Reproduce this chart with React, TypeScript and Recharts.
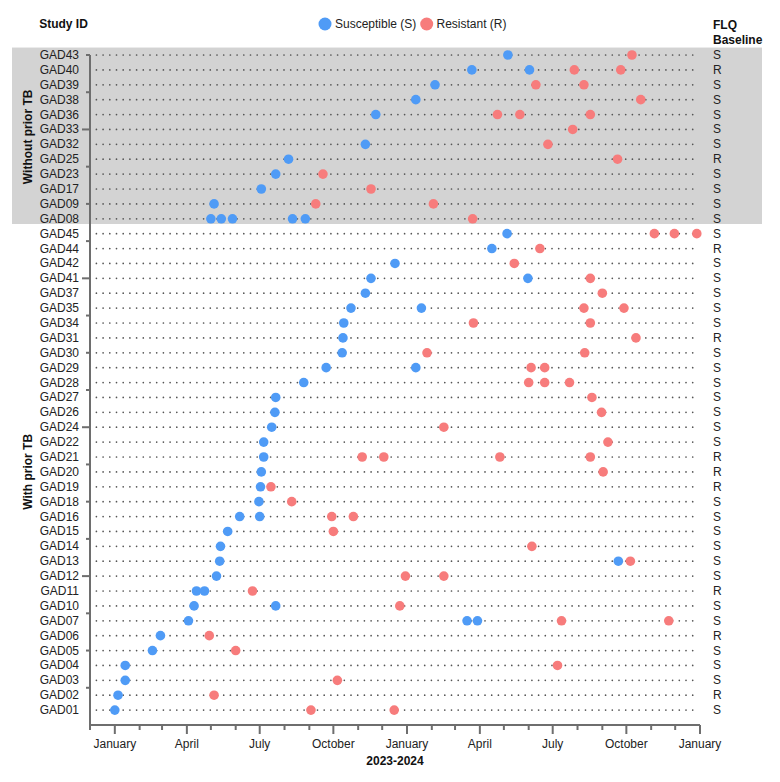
import React from "react";
import {
  ComposedChart,
  Scatter,
  XAxis,
  YAxis,
  ReferenceLine,
  ReferenceArea,
} from "recharts";

// Study IDs from top to bottom
const studyIds = [
  "GAD43", "GAD40", "GAD39", "GAD38", "GAD36", "GAD33", "GAD32", "GAD25", "GAD23", "GAD17", "GAD09", "GAD08",
  "GAD45", "GAD44", "GAD42", "GAD41", "GAD37", "GAD35", "GAD34", "GAD31", "GAD30", "GAD29", "GAD28", "GAD27",
  "GAD26", "GAD24", "GAD22", "GAD21", "GAD20", "GAD19", "GAD18", "GAD16", "GAD15", "GAD14", "GAD13", "GAD12",
  "GAD11", "GAD10", "GAD07", "GAD06", "GAD05", "GAD04", "GAD03", "GAD02", "GAD01",
];

const flqBaseline = [
  "S", "R", "S", "S", "S", "S", "S", "R", "S", "S", "S", "S",
  "S", "R", "S", "S", "S", "S", "S", "R", "S", "S", "S", "S",
  "S", "S", "S", "R", "R", "R", "S", "S", "S", "S", "S", "S",
  "R", "S", "S", "R", "S", "S", "S", "R", "S",
];

const groupLabels = ["Without prior TB", "With prior TB"];
const groupSizes = [12, 33];

const susceptibleObs: [string, string][] = [
  ["GAD43", "2024-05-06"],
  ["GAD40", "2024-03-22"], ["GAD40", "2024-06-02"],
  ["GAD39", "2024-02-05"],
  ["GAD38", "2024-01-12"],
  ["GAD36", "2023-11-23"],
  ["GAD32", "2023-11-10"],
  ["GAD25", "2023-08-06"],
  ["GAD23", "2023-07-21"],
  ["GAD17", "2023-07-03"],
  ["GAD09", "2023-05-05"],
  ["GAD08", "2023-05-01"], ["GAD08", "2023-05-14"], ["GAD08", "2023-05-28"], ["GAD08", "2023-08-11"], ["GAD08", "2023-08-27"],
  ["GAD45", "2024-05-05"],
  ["GAD44", "2024-04-16"],
  ["GAD42", "2023-12-17"],
  ["GAD41", "2023-11-17"], ["GAD41", "2024-05-31"],
  ["GAD37", "2023-11-10"],
  ["GAD35", "2023-10-23"], ["GAD35", "2024-01-19"],
  ["GAD34", "2023-10-14"],
  ["GAD31", "2023-10-13"],
  ["GAD30", "2023-10-12"],
  ["GAD29", "2023-09-22"], ["GAD29", "2024-01-12"],
  ["GAD28", "2023-08-25"],
  ["GAD27", "2023-07-21"],
  ["GAD26", "2023-07-20"],
  ["GAD24", "2023-07-16"],
  ["GAD22", "2023-07-06"],
  ["GAD21", "2023-07-06"],
  ["GAD20", "2023-07-03"],
  ["GAD19", "2023-07-02"],
  ["GAD18", "2023-06-30"],
  ["GAD16", "2023-06-06"], ["GAD16", "2023-07-01"],
  ["GAD15", "2023-05-22"],
  ["GAD14", "2023-05-13"],
  ["GAD13", "2023-05-12"], ["GAD13", "2024-09-21"],
  ["GAD12", "2023-05-08"],
  ["GAD11", "2023-04-13"], ["GAD11", "2023-04-23"],
  ["GAD10", "2023-04-10"], ["GAD10", "2023-07-21"],
  ["GAD07", "2023-04-03"], ["GAD07", "2024-03-16"], ["GAD07", "2024-03-29"],
  ["GAD06", "2023-02-27"],
  ["GAD05", "2023-02-17"],
  ["GAD04", "2023-01-14"],
  ["GAD03", "2023-01-14"],
  ["GAD02", "2023-01-05"],
  ["GAD01", "2023-01-01"],
];

const resistantObs: [string, string][] = [
  ["GAD43", "2024-10-08"],
  ["GAD40", "2024-07-28"], ["GAD40", "2024-09-24"],
  ["GAD39", "2024-06-10"], ["GAD39", "2024-08-09"],
  ["GAD38", "2024-10-19"],
  ["GAD36", "2024-04-23"], ["GAD36", "2024-05-21"], ["GAD36", "2024-08-17"],
  ["GAD33", "2024-07-26"],
  ["GAD32", "2024-06-25"],
  ["GAD25", "2024-09-20"],
  ["GAD23", "2023-09-18"],
  ["GAD17", "2023-11-17"],
  ["GAD09", "2023-09-09"], ["GAD09", "2024-02-03"],
  ["GAD08", "2024-03-23"],
  ["GAD45", "2024-11-05"], ["GAD45", "2024-11-30"], ["GAD45", "2024-12-28"],
  ["GAD44", "2024-06-15"],
  ["GAD42", "2024-05-14"],
  ["GAD41", "2024-08-17"],
  ["GAD37", "2024-09-01"],
  ["GAD35", "2024-08-09"], ["GAD35", "2024-09-28"],
  ["GAD34", "2024-03-24"], ["GAD34", "2024-08-17"],
  ["GAD31", "2024-10-13"],
  ["GAD30", "2024-01-26"], ["GAD30", "2024-08-10"],
  ["GAD29", "2024-06-04"], ["GAD29", "2024-06-21"],
  ["GAD28", "2024-06-01"], ["GAD28", "2024-06-21"], ["GAD28", "2024-07-22"],
  ["GAD27", "2024-08-19"],
  ["GAD26", "2024-08-31"],
  ["GAD24", "2024-02-16"],
  ["GAD22", "2024-09-08"],
  ["GAD21", "2023-11-06"], ["GAD21", "2023-12-03"], ["GAD21", "2024-04-26"], ["GAD21", "2024-08-17"],
  ["GAD20", "2024-09-02"],
  ["GAD19", "2023-07-15"],
  ["GAD18", "2023-08-10"],
  ["GAD16", "2023-09-29"], ["GAD16", "2023-10-26"],
  ["GAD15", "2023-10-01"],
  ["GAD14", "2024-06-05"],
  ["GAD13", "2024-10-06"],
  ["GAD12", "2023-12-30"], ["GAD12", "2024-02-16"],
  ["GAD11", "2023-06-22"],
  ["GAD10", "2023-12-23"],
  ["GAD07", "2024-07-12"], ["GAD07", "2024-11-23"],
  ["GAD06", "2023-04-29"],
  ["GAD05", "2023-06-01"],
  ["GAD04", "2024-07-07"],
  ["GAD03", "2023-10-06"],
  ["GAD02", "2023-05-05"],
  ["GAD01", "2023-09-03"], ["GAD01", "2023-12-16"],
];

const monthNames = ["January", "February", "March", "April", "May", "June", "July", "August", "September", "October", "November", "December"];
const axisStart = "2022-12-01";
const axisEnd = "2025-01-01";
const guideStart = "2022-12-09";
const guideEnd = "2024-12-28";
const xTitle = "2023-2024";
const legendItems = ["Susceptible (S)", "Resistant (R)"];

const BLUE = "#4f9bf6";
const RED = "#f77c7c";
const AXIS = "#6e6e6e";
const FONT = "'Liberation Sans', Arial, Helvetica, sans-serif";

const N = studyIds.length;
const ts = (s: string) => Date.parse(s + "T00:00:00Z");
const rowValue = (id: string) => N - studyIds.indexOf(id);

const sData = susceptibleObs.map(([id, d]) => ({ id, x: ts(d), y: rowValue(id) }));
const rData = resistantObs.map(([id, d]) => ({ id, x: ts(d), y: rowValue(id) }));

// month ticks
const monthTicks: number[] = [];
{
  let y = 2022, m = 11;
  while (true) {
    const t = Date.UTC(y, m, 1);
    if (t > ts(axisEnd)) break;
    monthTicks.push(t);
    m++;
    if (m > 11) { m = 0; y++; }
  }
}

// group centers
const groupCenters: number[] = [];
{
  let top = N;
  for (const size of groupSizes) {
    const bottom = top - size + 1;
    groupCenters.push((top + bottom) / 2);
    top -= size;
  }
}
const topGroupLow = N - groupSizes[0] + 1;

const yTickSet = new Set<number>();
for (let i = 1; i <= N; i++) yTickSet.add(i);
for (let v = 2.5; v <= N; v += 2.5) yTickSet.add(v);
groupCenters.forEach((c) => yTickSet.add(c));
const yTicks = Array.from(yTickSet).sort((a, b) => a - b);

const BASELINE_X = 705;
const GROUP_X = 20;

const YTick = (props: any) => {
  const { x, y, payload } = props;
  const v: number = payload.value;
  const els: React.ReactNode[] = [];
  const gi = groupCenters.indexOf(v);
  if (gi >= 0) {
    els.push(
      <text key="g" x={GROUP_X} y={y} transform={`rotate(-90, ${GROUP_X}, ${y})`} textAnchor="middle" dominantBaseline="central"
        fontSize={12} fontWeight="bold" fill="#111" fontFamily={FONT}>
        {groupLabels[gi]}
      </text>
    );
  }
  if (Math.abs(v / 2.5 - Math.round(v / 2.5)) < 1e-9 && v > 0) {
    const len = v % 10 === 0 ? 8 : 4;
    els.push(<line key="t" x1={x - len} x2={x} y1={y} y2={y} stroke={AXIS} strokeWidth={2} />);
  }
  if (Number.isInteger(v) && v >= 1 && v <= N) {
    const idx = N - v;
    els.push(
      <text key="l" x={x - 11} y={y} textAnchor="end" dominantBaseline="central" fontSize={12} fill="#222" fontFamily={FONT}>
        {studyIds[idx]}
      </text>
    );
    els.push(
      <text key="b" x={BASELINE_X} y={y} textAnchor="start" dominantBaseline="central" fontSize={12} fill="#222" fontFamily={FONT}>
        {flqBaseline[idx]}
      </text>
    );
  }
  return <g>{els}</g>;
};

const XTick = (props: any) => {
  const { x, y, payload } = props;
  const d = new Date(payload.value);
  const m = d.getUTCMonth();
  const major = m % 3 === 0;
  return (
    <g>
      <line x1={x} x2={x} y1={y} y2={y + (major ? 9 : 5)} stroke={AXIS} strokeWidth={2} />
      {major && (
        <text x={x} y={y + 23} textAnchor="middle" fontSize={12} fill="#222" fontFamily={FONT}>
          {monthNames[m]}
        </text>
      )}
    </g>
  );
};

const dot = (color: string) => (p: any) => <circle cx={p.cx} cy={p.cy} r={4.8} fill={color} />;

export default function App() {
  return (
    <div style={{ width: 764, height: 766, fontFamily: FONT }}>
      <ComposedChart width={764} height={766} margin={{ top: 47, right: 72, bottom: 9, left: 0 }}>
        <ReferenceArea
          y1={topGroupLow - 0.35}
          y2={N + 0.5}
          ifOverflow="visible"
          shape={(p: any) => <rect x={4} y={p.y} width={750} height={p.height} fill="#d3d3d3" />}
        />
        <XAxis
          dataKey="x"
          type="number"
          scale="time"
          domain={[ts(axisStart), ts(axisEnd)]}
          ticks={monthTicks}
          interval={0}
          tickSize={0}
          tickMargin={0}
          tickLine={false}
          tick={<XTick />}
          axisLine={{ stroke: AXIS, strokeWidth: 2 }}
          height={40}
        />
        <YAxis
          dataKey="y"
          type="number"
          domain={[0, N]}
          ticks={yTicks}
          interval={0}
          tickSize={0}
          tickMargin={0}
          tickLine={false}
          tick={<YTick />}
          axisLine={{ stroke: AXIS, strokeWidth: 2 }}
          width={82}
        />
        {studyIds.map((id) => (
          <ReferenceLine
            key={id}
            segment={[{ x: ts(guideStart), y: rowValue(id) }, { x: ts(guideEnd), y: rowValue(id) }]}
            stroke="#555"
            strokeWidth={1.7}
            strokeDasharray="0 6.7"
            strokeLinecap="round"
          />
        ))}
        <Scatter name={legendItems[0]} data={sData} fill={BLUE} shape={dot(BLUE)} isAnimationActive={false} />
        <Scatter name={legendItems[1]} data={rData} fill={RED} shape={dot(RED)} isAnimationActive={false} />
        <text x={55.5} y={20} textAnchor="middle" fontSize={12} fontWeight="bold" fill="#111" fontFamily={FONT}>Study ID</text>
        <circle cx={317} cy={16} r={6.5} fill={BLUE} />
        <text x={327} y={20} fontSize={12} fill="#222" fontFamily={FONT}>{legendItems[0]}</text>
        <circle cx={418.7} cy={16} r={6.5} fill={RED} />
        <text x={428.5} y={20} fontSize={12} fill="#222" fontFamily={FONT}>{legendItems[1]}</text>
        <text x={705} y={21} fontSize={12} fontWeight="bold" fill="#111" fontFamily={FONT}>FLQ</text>
        <text x={705} y={36} fontSize={12} fontWeight="bold" fill="#111" fontFamily={FONT}>Baseline</text>
        <text x={387} y={756.5} textAnchor="middle" fontSize={12} fontWeight="bold" fill="#111" fontFamily={FONT}>{xTitle}</text>
      </ComposedChart>
    </div>
  );
}
